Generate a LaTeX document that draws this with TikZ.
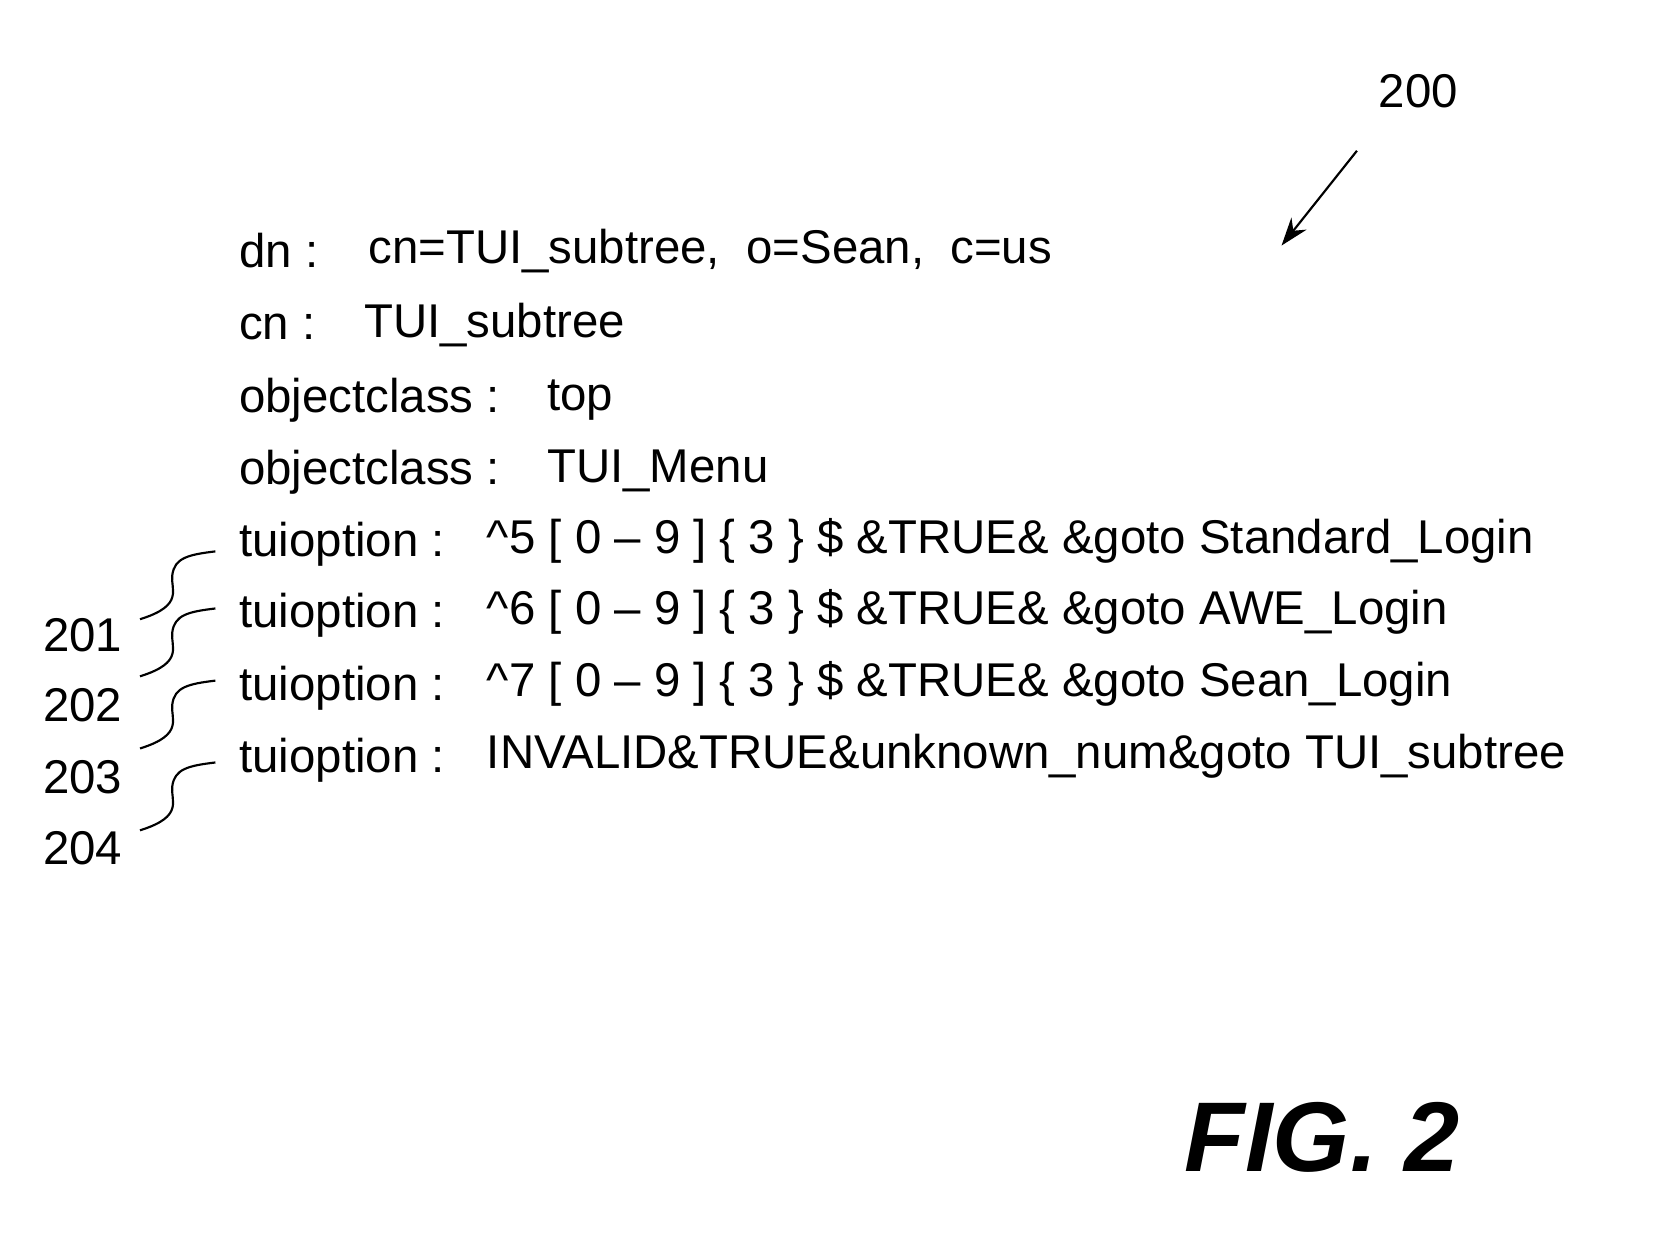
\documentclass[tikz,border=0pt]{standalone}
\usepackage{fontspec}
\setmainfont{Liberation Sans}
\usetikzlibrary{arrows.meta}
\begin{document}
\begin{tikzpicture}[x=1pt,y=-1pt,
  txt/.style={inner sep=0pt,anchor=base west,font=\fontsize{44}{50}\selectfont},
  lead/.style={line width=2pt}]
\useasboundingbox (0,0) rectangle (1560,1155);
\node[txt] (l1) at (222,248) {dn :};
\node[txt] (v1) at (342,245) {cn=TUI\_subtree,\ \ o=Sean,\ \ c=us};
\node[txt] (l2) at (222,315) {cn :};
\node[txt] (v2) at (338,313) {TUI\_subtree};
\node[txt] (l3) at (222,383) {objectclass :};
\node[txt] (v3) at (508,381) {top};
\node[txt] (l4) at (222,450) {objectclass :};
\node[txt] (v4) at (508,448) {TUI\_Menu};
\node[txt] (l5) at (222,517) {tuioption :};
\node[txt] (v5) at (452,514) {\textasciicircum5 [ 0 – 9 ] \{ 3 \} \$ \&TRUE\& \&goto Standard\_Login};
\node[txt] (l6) at (222,583) {tuioption :};
\node[txt] (v6) at (452,580) {\textasciicircum6 [ 0 – 9 ] \{ 3 \} \$ \&TRUE\& \&goto AWE\_Login};
\node[txt] (l7) at (222,650) {tuioption :};
\node[txt] (v7) at (452,647) {\textasciicircum7 [ 0 – 9 ] \{ 3 \} \$ \&TRUE\& \&goto Sean\_Login};
\node[txt] (l8) at (222,717) {tuioption :};
\node[txt] (v8) at (452,714) {INVALID\&TRUE\&unknown\_num\&goto TUI\_subtree};
\node[txt] (n201) at (40,605) {201};
\node[txt] (n202) at (40,670) {202};
\node[txt] (n203) at (40,737) {203};
\node[txt] (n204) at (40,803) {204};
\node[txt] (n200) at (1280,100) {200};
\node[inner sep=0pt,anchor=base west,font=\fontsize{92}{100}\selectfont\bfseries\itshape] (fig) at (1100,1088) {FIG. 2};
\foreach \y/\n/\l in {512/n201/l5,565/n202/l6,632/n203/l7,708/n204/l8}{
  \coordinate (s\n) at (200,\y);
  \coordinate (e\n) at (130,\y+63);
  \draw[lead] (s\n) .. controls (175,\y+3) and (162,\y+6) .. (160,\y+22)
     .. controls (158,\y+35) and (172,\y+50) .. (e\n);
}
\coordinate (a0) at (1260,140);
\coordinate (a1) at (1190,228);
\draw[line width=2pt,-{Stealth[length=26pt,width=18pt]}] (a0) -- (a1);
\end{tikzpicture}
\end{document}
